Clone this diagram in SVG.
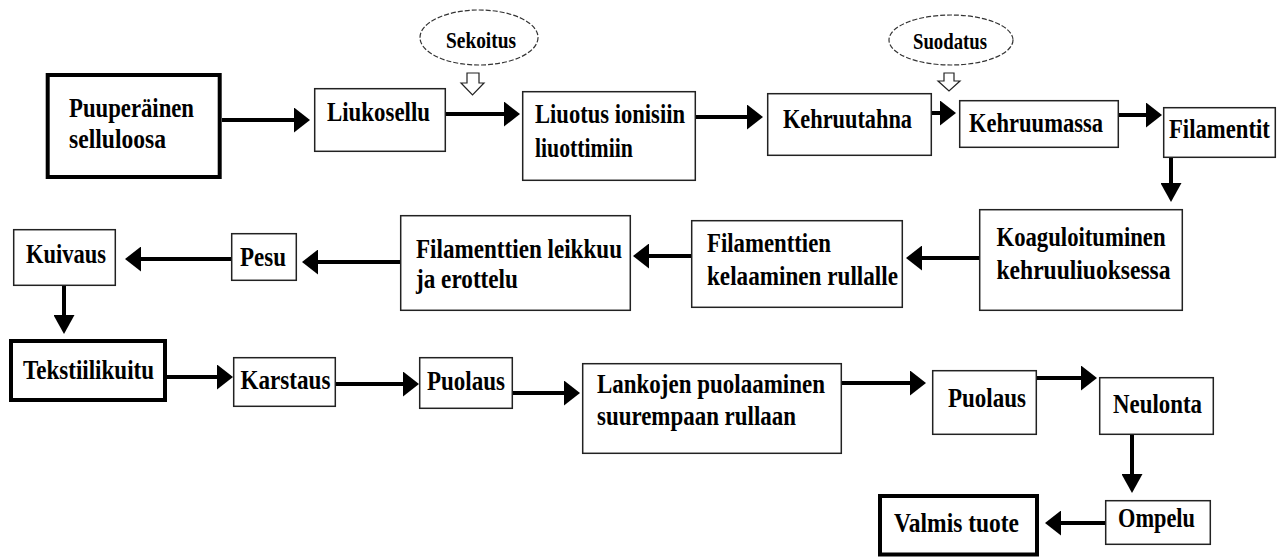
<svg xmlns="http://www.w3.org/2000/svg" width="1284" height="557" viewBox="0 0 1284 557" font-family="'Liberation Serif', 'Times New Roman', serif">
<style>
.b{fill:#fff;stroke:#222;stroke-width:1.5}
.bt{fill:#fff;stroke:#000;stroke-width:4}
.e{fill:#fff;stroke:#333;stroke-width:1.2;stroke-dasharray:5 2}
.t{font-family:'Liberation Serif','Times New Roman',serif;font-weight:bold;font-size:27px;fill:#000}
.te{font-family:'Liberation Serif','Times New Roman',serif;font-weight:bold;font-size:24px;fill:#000}
.ch{stroke:#000;stroke-width:4;fill:none;marker-end:url(#ah)}
.cv{stroke:#000;stroke-width:4;fill:none;marker-end:url(#av)}
.ho{fill:#fff;stroke:#222;stroke-width:1.2}
</style>
<defs>
<marker id="ah" viewBox="0 0 16 25" markerWidth="16" markerHeight="25" refX="0" refY="12.5" orient="auto" markerUnits="userSpaceOnUse"><path d="M0,0 L16,12.5 L0,25 Z" fill="#000"/></marker>
<marker id="av" viewBox="0 0 19 21" markerWidth="19" markerHeight="21" refX="0" refY="10.5" orient="auto" markerUnits="userSpaceOnUse"><path d="M0,0 L19,10.5 L0,21 Z" fill="#000"/></marker>
</defs>
<rect width="1284" height="557" fill="#fff"/>
<g id="connectors">
<line class="ch" x1="222" y1="120" x2="294" y2="120"/>
<line class="ch" x1="446" y1="114" x2="504" y2="114"/>
<line class="ch" x1="696" y1="117" x2="747" y2="117"/>
<line class="ch" x1="932" y1="113" x2="940" y2="113"/>
<line class="ch" x1="1119" y1="115" x2="1146" y2="115"/>
<line class="cv" x1="1171" y1="158" x2="1171" y2="183"/>
<line class="ch" x1="979" y1="258" x2="922" y2="258"/>
<line class="ch" x1="691" y1="256" x2="649" y2="256"/>
<line class="ch" x1="400" y1="262" x2="318" y2="262"/>
<line class="ch" x1="231" y1="259" x2="141" y2="259"/>
<line class="cv" x1="64" y1="286" x2="64" y2="315"/>
<line class="ch" x1="167" y1="377" x2="217" y2="377"/>
<line class="ch" x1="336" y1="384" x2="403" y2="384"/>
<line class="ch" x1="513" y1="393" x2="564" y2="393"/>
<line class="ch" x1="842" y1="383" x2="910" y2="383"/>
<line class="ch" x1="1037" y1="378" x2="1081" y2="378"/>
<line class="cv" x1="1132" y1="435" x2="1132" y2="474"/>
<line class="ch" x1="1105" y1="523" x2="1061" y2="523"/>
<polygon class="ho" points="467,73 479,73 479,83 484,83 472.5,95 461,83 467,83"/>
<polygon class="ho" points="944,73 954,73 954,81 960,81 949,91 938,81 944,81"/>
</g>
<g id="sekoitus"><ellipse class="e" cx="479" cy="37.5" rx="59" ry="27.5"/><text class="te" transform="translate(446,48) scale(0.87,1)" textLength="80.5" lengthAdjust="spacingAndGlyphs">Sekoitus</text></g>
<g id="suodatus"><ellipse class="e" cx="951" cy="40" rx="62" ry="25"/><text class="te" transform="translate(913,49) scale(0.87,1)" textLength="85" lengthAdjust="spacingAndGlyphs">Suodatus</text></g>
<g id="puuperainen"><rect class="bt" x="47.7" y="75" width="172" height="102"/><text class="t" transform="translate(69,117) scale(0.87,1)" textLength="143.7" lengthAdjust="spacingAndGlyphs">Puuperäinen</text><text class="t" transform="translate(69,148) scale(0.87,1)" textLength="111.5" lengthAdjust="spacingAndGlyphs">selluloosa</text></g>
<g id="liukosellu"><rect class="b" x="314.7" y="88.7" width="130.6" height="62.6"/><text class="t" transform="translate(327,121) scale(0.87,1)" textLength="118.4" lengthAdjust="spacingAndGlyphs">Liukosellu</text></g>
<g id="liuotus"><rect class="b" x="522.7" y="91.7" width="172.6" height="88.6"/><text class="t" transform="translate(535,123) scale(0.87,1)" textLength="172.4" lengthAdjust="spacingAndGlyphs">Liuotus ionisiin</text><text class="t" transform="translate(535,157) scale(0.87,1)" textLength="112.6" lengthAdjust="spacingAndGlyphs">liuottimiin</text></g>
<g id="kehruutahna"><rect class="b" x="767.7" y="93.7" width="163.6" height="61.6"/><text class="t" transform="translate(783,128) scale(0.87,1)" textLength="148.3" lengthAdjust="spacingAndGlyphs">Kehruutahna</text></g>
<g id="kehruumassa"><rect class="b" x="959.7" y="100.7" width="158.6" height="46.6"/><text class="t" transform="translate(969,132) scale(0.87,1)" textLength="154" lengthAdjust="spacingAndGlyphs">Kehruumassa</text></g>
<g id="filamentit"><rect class="b" x="1163.7" y="107.7" width="111.6" height="49.6"/><text class="t" transform="translate(1169,138) scale(0.87,1)" textLength="116" lengthAdjust="spacingAndGlyphs">Filamentit</text></g>
<g id="koaguloituminen"><rect class="b" x="979.7" y="209.7" width="202.6" height="100.6"/><text class="t" transform="translate(996.5,246) scale(0.87,1)" textLength="194.3" lengthAdjust="spacingAndGlyphs">Koaguloituminen</text><text class="t" transform="translate(996.5,279) scale(0.87,1)" textLength="200" lengthAdjust="spacingAndGlyphs">kehruuliuoksessa</text></g>
<g id="kelaaminen"><rect class="b" x="691.7" y="220.7" width="210.6" height="86.6"/><text class="t" transform="translate(707,252) scale(0.87,1)" textLength="142.5" lengthAdjust="spacingAndGlyphs">Filamenttien</text><text class="t" transform="translate(707,285) scale(0.87,1)" textLength="219.5" lengthAdjust="spacingAndGlyphs">kelaaminen rullalle</text></g>
<g id="leikkuu"><rect class="b" x="400.7" y="215.7" width="229.6" height="94.6"/><text class="t" transform="translate(416,258) scale(0.87,1)" textLength="236.8" lengthAdjust="spacingAndGlyphs">Filamenttien leikkuu</text><text class="t" transform="translate(416,288) scale(0.87,1)" textLength="117.2" lengthAdjust="spacingAndGlyphs">ja erottelu</text></g>
<g id="pesu"><rect class="b" x="231.7" y="233.7" width="64.6" height="46.6"/><text class="t" transform="translate(240,266) scale(0.87,1)" textLength="52.9" lengthAdjust="spacingAndGlyphs">Pesu</text></g>
<g id="kuivaus"><rect class="b" x="13.7" y="229.7" width="101.6" height="55.6"/><text class="t" transform="translate(26,263) scale(0.87,1)" textLength="92" lengthAdjust="spacingAndGlyphs">Kuivaus</text></g>
<g id="tekstiilikuitu"><rect class="bt" x="11" y="341" width="154" height="59"/><text class="t" transform="translate(23,379) scale(0.87,1)" textLength="150.6" lengthAdjust="spacingAndGlyphs">Tekstiilikuitu</text></g>
<g id="karstaus"><rect class="b" x="233.7" y="357.7" width="101.6" height="48.6"/><text class="t" transform="translate(240.5,389) scale(0.87,1)" textLength="103.4" lengthAdjust="spacingAndGlyphs">Karstaus</text></g>
<g id="puolaus1"><rect class="b" x="419.7" y="357.7" width="92.6" height="50.6"/><text class="t" transform="translate(427,390) scale(0.87,1)" textLength="89.7" lengthAdjust="spacingAndGlyphs">Puolaus</text></g>
<g id="lankojen"><rect class="b" x="582.7" y="363.7" width="258.6" height="89.6"/><text class="t" transform="translate(597,393) scale(0.87,1)" textLength="262" lengthAdjust="spacingAndGlyphs">Lankojen puolaaminen</text><text class="t" transform="translate(597,425) scale(0.87,1)" textLength="228.7" lengthAdjust="spacingAndGlyphs">suurempaan rullaan</text></g>
<g id="puolaus2"><rect class="b" x="932.7" y="370.7" width="103.6" height="63.6"/><text class="t" transform="translate(948,407) scale(0.87,1)" textLength="89.7" lengthAdjust="spacingAndGlyphs">Puolaus</text></g>
<g id="neulonta"><rect class="b" x="1099.7" y="377.7" width="113.6" height="56.6"/><text class="t" transform="translate(1113,413) scale(0.87,1)" textLength="102.3" lengthAdjust="spacingAndGlyphs">Neulonta</text></g>
<g id="ompelu"><rect class="b" x="1105.7" y="500.7" width="104.6" height="43.6"/><text class="t" transform="translate(1118,527) scale(0.87,1)" textLength="88.5" lengthAdjust="spacingAndGlyphs">Ompelu</text></g>
<g id="valmis"><rect class="bt" x="880" y="496" width="157" height="58.5"/><text class="t" transform="translate(894,532) scale(0.87,1)" textLength="143.7" lengthAdjust="spacingAndGlyphs">Valmis tuote</text></g>
</svg>
